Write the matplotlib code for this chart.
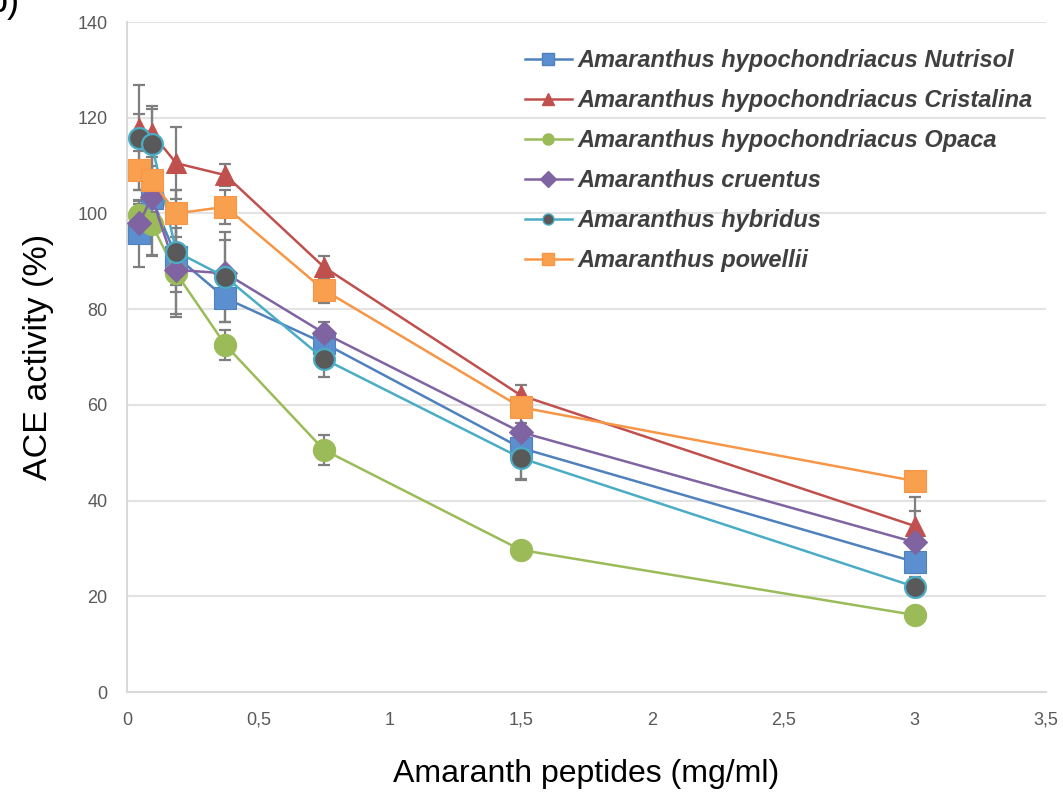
import matplotlib
matplotlib.use("Agg")
import matplotlib.pyplot as plt
import matplotlib.lines as mlines
from matplotlib.ticker import FuncFormatter

plt.rcParams["font.family"] = ["Liberation Sans", "DejaVu Sans"]

conc = [0.047, 0.094, 0.1875, 0.375, 0.75, 1.5, 3.0]

names = [
    "Amaranthus hypochondriacus Nutrisol",
    "Amaranthus hypochondriacus Cristalina",
    "Amaranthus hypochondriacus Opaca",
    "Amaranthus cruentus",
    "Amaranthus hybridus",
    "Amaranthus powellii",
]

nutrisol = [95.9, 103.2, 91.0, 82.3, 72.9, 51.0, 27.2]
cristalina = [117.8, 116.8, 110.5, 108.0, 88.8, 62.0, 34.7]
opaca = [99.7, 97.8, 87.5, 72.5, 50.6, 29.7, 16.1]
cruentus = [98.0, 103.4, 88.2, 87.5, 75.0, 54.3, 31.3]
hybridus = [115.8, 114.5, 92.0, 86.7, 69.6, 48.9, 22.0]
powellii = [109.0, 107.0, 100.0, 101.4, 84.0, 59.5, 44.1]

err_nutrisol = [7.0, 12.0, 6.0, 5.0, 3.0, 6.5, 2.0]
err_cristalina = [3.0, 5.0, 7.5, 2.3, 2.3, 2.2, 6.0]
err_opaca = [3.0, 6.5, 4.0, 3.1, 3.2, 1.0, 1.0]
err_cruentus = [4.0, 3.0, 9.8, 7.0, 2.3, 2.0, 6.5]
err_hybridus = [11.0, 8.0, 13.0, 9.4, 3.8, 4.5, 2.0]
err_powellii = [4.0, 3.0, 5.0, 3.5, 2.7, 2.0, 1.0]

series = [nutrisol, cristalina, opaca, cruentus, hybridus, powellii]
errors = [err_nutrisol, err_cristalina, err_opaca, err_cruentus, err_hybridus, err_powellii]

colors = ["#4F81BD", "#C0504D", "#9BBB59", "#8064A2", "#4BACC6", "#F79646"]
markers = ["s", "^", "o", "D", "o", "s"]
msizes = [16, 15, 16, 12, 15, 16]
facecolors = ["#5B8FD0", "#C0504D", "#9BBB59", "#8064A2", "#595959", "#F9A04F"]

fig = plt.figure(figsize=(10.63, 8.01), dpi=100)
ax = fig.add_axes([0.1195, 0.136, 0.8645, 0.8365])

for ys, es in zip(series, errors):
    ax.errorbar(conc, ys, yerr=es, fmt="none", ecolor="#7F7F7F", elinewidth=1.6,
                capsize=4, capthick=1.6, zorder=2)
for ys, c, m, ms, fc, nm in zip(series, colors, markers, msizes, facecolors, names):
    hyb = fc == "#595959"
    ax.plot(conc, ys, color=c, lw=1.8, marker=m, markersize=ms,
            markerfacecolor=fc, markeredgecolor=c, markeredgewidth=1.6 if hyb else 0.8,
            label=nm, zorder=3)

ax.set_xlim(0, 3.5)
ax.set_ylim(0, 140)
ax.set_xticks([0, 0.5, 1, 1.5, 2, 2.5, 3, 3.5])
ax.set_yticks(range(0, 141, 20))

def fmt(v, pos):
    return ("%g" % v).replace(".", ",")
ax.xaxis.set_major_formatter(FuncFormatter(fmt))

ax.yaxis.grid(True, color="#E3E3E3", lw=1.5)
ax.set_axisbelow(True)
for s in ["top", "right"]:
    ax.spines[s].set_visible(False)
for s in ["left", "bottom"]:
    ax.spines[s].set_color("#D9D9D9")
    ax.spines[s].set_linewidth(1.5)
ax.tick_params(axis="both", length=0, labelsize=13, labelcolor="#595959")
ax.tick_params(axis="x", pad=14)
ax.tick_params(axis="y", pad=14)

ax.set_xlabel("Amaranth peptides (mg/ml)", fontsize=23, labelpad=22)
ax.set_ylabel("ACE activity (%)", fontsize=24.5, labelpad=17)

leg_handles = []
for c, m, fc in zip(colors, markers, facecolors):
    leg_handles.append(mlines.Line2D([], [], color=c, lw=1.8, marker=m, markersize=8,
                                     markerfacecolor=fc, markeredgecolor=c))
leg = ax.legend(leg_handles, names, loc="upper right", bbox_to_anchor=(1.009, 0.991),
                frameon=False, handlelength=2.0, handletextpad=0.25, labelspacing=0.72,
                prop={"style": "italic", "weight": "bold", "size": 17})
for t in leg.get_texts():
    t.set_color("#404040")

fig.text(0.019, 0.985, "b)", fontsize=26, ha="right", va="baseline")

fig.savefig("out.png", dpi=100)
